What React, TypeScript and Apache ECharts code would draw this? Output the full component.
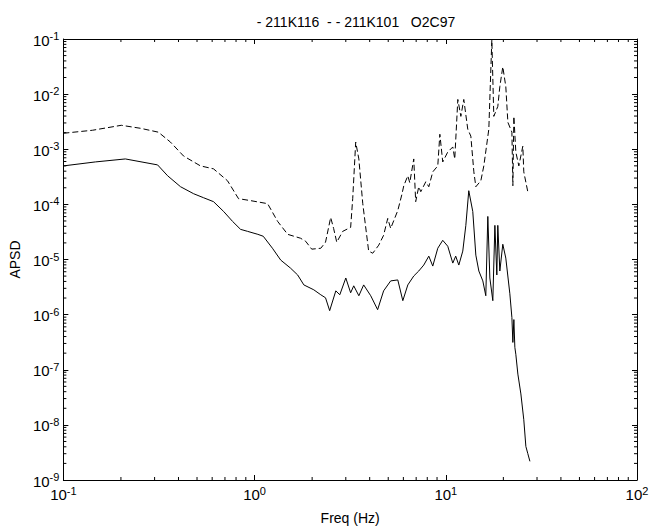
import React, { useEffect, useRef } from "react";
import * as echarts from "echarts";

// Spectra: [frequency (Hz), APSD]
const freqSolid = [
  0.1, 0.147, 0.211, 0.311, 0.351, 0.41, 0.48, 0.541, 0.61, 0.689, 0.767, 0.845, 0.919, 1.04, 1.11,
  1.24, 1.37, 1.54, 1.68, 1.81, 2.04, 2.22, 2.35, 2.47, 2.66, 2.79, 3.0, 3.18, 3.3, 3.51, 3.72, 4.05,
  4.4, 4.73, 5.15, 5.61, 5.96, 6.33, 6.8, 7.22, 7.67, 8.15, 8.55, 9.08, 9.64, 10.24, 10.88, 11.27,
  11.7, 12.27, 12.73, 13.19, 13.84, 14.36, 14.89, 15.62, 16.19, 16.59, 17.0, 17.62, 18.06, 18.49,
  18.71, 19.17, 19.87, 20.6, 21.63, 22.17, 22.43, 22.7, 22.97, 23.24, 23.82, 24.7, 25.58, 26.23,
  26.84, 27.54,
];
const apsdSolid = [
  4.99e-4, 5.89e-4, 6.67e-4, 5.2e-4, 3.3e-4, 2.09e-4, 1.56e-4, 1.32e-4, 1.12e-4, 7.43e-5, 4.91e-5,
  3.52e-5, 3.24e-5, 2.86e-5, 2.64e-5, 1.6e-5, 9.75e-6, 7.0e-6, 5.24e-6, 3.46e-6, 2.82e-6, 2.29e-6,
  2.02e-6, 1.18e-6, 2.7e-6, 2.29e-6, 4.62e-6, 2.49e-6, 3.33e-6, 2.2e-6, 3.46e-6, 2.2e-6, 1.23e-6,
  2.7e-6, 4.09e-6, 4.26e-6, 1.79e-6, 3.46e-6, 5.02e-6, 6.18e-6, 7.93e-6, 1.15e-5, 7.6e-6, 1.6e-5,
  2.23e-5, 1.74e-5, 8.61e-6, 1.15e-5, 7.93e-6, 1.42e-5, 4.16e-5, 1.77e-4, 7.43e-5, 1.2e-5, 6.18e-6,
  4.09e-6, 2.2e-6, 6.04e-5, 4.62e-6, 1.79e-6, 4.16e-5, 5.24e-6, 4.16e-5, 6.18e-6, 1.89e-5, 1.06e-5,
  2.39e-6, 8.83e-7, 3.13e-7, 8.13e-7, 2.55e-7, 1.91e-7, 8.34e-8, 3.64e-8, 1.24e-8, 4.06e-9, 3.03e-9,
  2.18e-9,
];

const freqDashed = [
  0.1, 0.142, 0.201, 0.253, 0.314, 0.363, 0.425, 0.521, 0.61, 0.722, 0.824, 0.953, 1.17, 1.32, 1.49,
  1.74, 1.85, 1.99, 2.22, 2.35, 2.5, 2.59, 2.69, 2.89, 3.18, 3.26, 3.38, 3.51, 3.68, 3.95, 4.15, 4.46,
  4.73, 4.97, 5.15, 5.61, 5.89, 6.03, 6.33, 6.48, 6.8, 6.96, 7.22, 7.4, 7.86, 8.15, 8.55, 9.08, 9.31,
  9.64, 10.24, 10.88, 11.14, 11.56, 11.99, 12.42, 13.03, 13.52, 14.02, 14.36, 15.25, 15.81, 16.79,
  17.41, 17.83, 18.71, 19.17, 19.87, 20.6, 21.12, 22.17, 22.43, 22.7, 23.24, 24.1, 25.29, 25.58,
  26.84,
];
const apsdDashed = [
  1.95e-3, 2.21e-3, 2.72e-3, 2.4e-3, 2.04e-3, 1.35e-3, 7.55e-4, 4.99e-4, 4.41e-4, 2.68e-4, 1.27e-4,
  1.17e-4, 1.03e-4, 4.91e-5, 2.86e-5, 2.43e-5, 2.14e-5, 1.54e-5, 1.6e-5, 2.06e-5, 5.79e-5, 3.67e-5,
  2.06e-5, 3.24e-5, 3.83e-5, 1.27e-4, 1.35e-3, 6.67e-4, 1.03e-4, 1.42e-5, 1.3e-5, 1.82e-5, 2.75e-5,
  5.56e-5, 3.67e-5, 7.73e-5, 1.5e-4, 2.18e-4, 3.3e-4, 2.47e-4, 6.67e-4, 1.12e-4, 2.09e-4, 1.7e-4,
  2.57e-4, 2.09e-4, 3.89e-4, 4.99e-4, 1.87e-3, 5.89e-4, 8.91e-4, 1.1e-3, 6.67e-4, 8.0e-3, 3.95e-3,
  8.0e-3, 2.31e-3, 1.73e-3, 3.89e-4, 2.09e-4, 2.68e-4, 4.99e-4, 2.31e-3, 9.6e-2, 3.95e-3, 5.98e-3,
  1.37e-2, 3.13e-2, 1.37e-2, 3.08e-3, 2.04e-3, 2.18e-4, 3.95e-3, 8.91e-4, 4.99e-4, 1.14e-3, 3.89e-4,
  1.7e-4,
];

const titleText = "- 211K116  - - 211K101   O2C97";
const xName = "Freq (Hz)";
const yName = "APSD";
const xRange = [0.1, 100];
const yRange = [1e-9, 1e-1];

// Minor tick positions (2..9 within each decade)
const minorTicks = (lo: number, hi: number) => {
  const out: number[] = [];
  for (let d = Math.round(Math.log10(lo)); d < Math.round(Math.log10(hi)); d++) {
    for (let m = 2; m <= 9; m++) out.push(m * Math.pow(10, d));
  }
  return out;
};
const xMinor = minorTicks(xRange[0], xRange[1]);
const yMinor = minorTicks(yRange[0], yRange[1]);

const FONT = "Liberation Sans, Arial, Helvetica, sans-serif";

const powLabel = (v: number) => `{b|10}{s|${Math.round(Math.log10(v))}}`;
const powRich = {
  b: { fontSize: 15, fontFamily: FONT, color: "#000", verticalAlign: "bottom", lineHeight: 17 },
  s: { fontSize: 11, fontFamily: FONT, color: "#000", verticalAlign: "top", lineHeight: 12 },
};

const axisBase = {
  type: "log" as const,
  logBase: 10,
  axisLine: { show: true, lineStyle: { color: "#000", width: 1 } },
  axisTick: { show: true, inside: true, length: 5, lineStyle: { color: "#000", width: 1 } },
  splitLine: { show: false },
  minorTick: { show: false },
};

export default function App() {
  const ref = useRef<HTMLDivElement>(null);

  useEffect(() => {
    if (!ref.current) return;
    const chart = echarts.init(ref.current, undefined, { renderer: "svg" });

    const tickStyle = { stroke: "#000", lineWidth: 1 };

    chart.setOption({
      animation: false,
      backgroundColor: "#fff",
      title: {
        text: titleText,
        left: 351,
        top: 10,
        textAlign: "center",
        textStyle: { fontFamily: FONT, fontSize: 14, fontWeight: "normal", color: "#000" },
      },
      grid: { left: 63, right: 27, top: 39, bottom: 46 },
      xAxis: [
        {
          ...axisBase,
          position: "bottom",
          min: xRange[0],
          max: xRange[1],
          splitNumber: 3,
          name: xName,
          nameLocation: "middle",
          nameGap: 31,
          nameTextStyle: { fontFamily: FONT, fontSize: 14, color: "#000" },
          axisLabel: { margin: 5, formatter: powLabel, rich: powRich },
        },
        {
          ...axisBase,
          position: "top",
          min: xRange[0],
          max: xRange[1],
          splitNumber: 3,
          axisLabel: { show: false },
        },
      ],
      yAxis: [
        {
          ...axisBase,
          position: "left",
          min: yRange[0],
          max: yRange[1],
          splitNumber: 8,
          name: yName,
          nameLocation: "middle",
          nameGap: 34,
          nameTextStyle: { fontFamily: FONT, fontSize: 14, color: "#000" },
          axisLabel: { margin: 4, formatter: powLabel, rich: powRich },
        },
        {
          ...axisBase,
          position: "right",
          min: yRange[0],
          max: yRange[1],
          splitNumber: 8,
          axisLabel: { show: false },
        },
      ],
      series: [
        {
          name: "211K116",
          type: "line",
          data: freqSolid.map((f, i) => [f, apsdSolid[i]]),
          showSymbol: false,
          symbol: "none",
          lineStyle: { color: "#000", width: 1 },
          z: 3,
        },
        {
          name: "211K101",
          type: "line",
          data: freqDashed.map((f, i) => [f, apsdDashed[i]]),
          showSymbol: false,
          symbol: "none",
          lineStyle: { color: "#000", width: 1, type: [6, 3] },
          z: 3,
        },
        {
          type: "custom",
          silent: true,
          clip: false,
          data: xMinor.map((f) => [f, yRange[0]]),
          renderItem: (_p: any, api: any) => {
            const f = api.value(0);
            const b = api.coord([f, yRange[0]]);
            const t = api.coord([f, yRange[1]]);
            return {
              type: "group",
              children: [
                { type: "line", shape: { x1: b[0], y1: b[1], x2: b[0], y2: b[1] - 3 }, style: tickStyle },
                { type: "line", shape: { x1: t[0], y1: t[1], x2: t[0], y2: t[1] + 3 }, style: tickStyle },
              ],
            };
          },
        },
        {
          type: "custom",
          silent: true,
          clip: false,
          data: yMinor.map((v) => [xRange[0], v]),
          renderItem: (_p: any, api: any) => {
            const v = api.value(1);
            const l = api.coord([xRange[0], v]);
            const r = api.coord([xRange[1], v]);
            return {
              type: "group",
              children: [
                { type: "line", shape: { x1: l[0], y1: l[1], x2: l[0] + 3, y2: l[1] }, style: tickStyle },
                { type: "line", shape: { x1: r[0], y1: r[1], x2: r[0] - 3, y2: r[1] }, style: tickStyle },
              ],
            };
          },
        },
      ],
    });

    return () => chart.dispose();
  }, []);

  return (
    <div
      ref={ref}
      style={{ position: "absolute", left: 0, top: 0, width: 664, height: 530, background: "#fff" }}
    />
  );
}
